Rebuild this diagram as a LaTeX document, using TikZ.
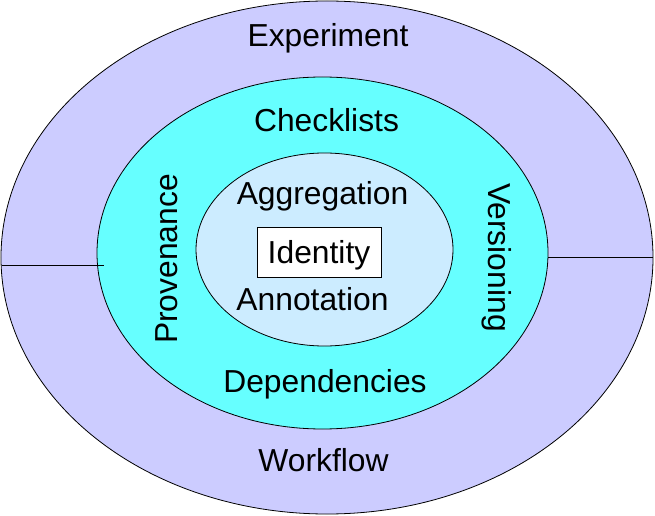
\documentclass[tikz,border=0pt]{standalone}
\usepackage{fontspec}
\setmainfont{Liberation Sans}
\usetikzlibrary{shapes.geometric}
\definecolor{outerc}{HTML}{CCCCFF}
\definecolor{midc}{HTML}{66FFFF}
\definecolor{innerc}{HTML}{CCECFF}
\begin{document}
\begin{tikzpicture}[x=1bp,y=-1bp,
  ring/.style={ellipse,draw=black,line width=0.8bp,inner sep=0pt},
  lbl/.style={anchor=base,inner sep=0pt,font=\fontsize{31.8bp}{36bp}\selectfont},
  sep/.style={draw=black,line width=0.8bp}]
\useasboundingbox (0,0) rectangle (655,516);
\node[ring,fill=outerc,minimum width=652bp,minimum height=513bp] (outer) at (327,257.5) {};
\node[ring,fill=midc,minimum width=451bp,minimum height=352bp] (mid) at (322.5,253) {};
\node[ring,fill=innerc,minimum width=257bp,minimum height=193bp] (inner) at (324.5,249.5) {};
\coordinate (l1) at (1.5,265);
\coordinate (l2) at (104,265);
\coordinate (r1) at (548,257);
\coordinate (r2) at (652.5,257);
\draw[sep] (l1) -- (l2);
\draw[sep] (r1) -- (r2);
\node[draw=black,fill=white,line width=0.8bp,minimum width=124bp,minimum height=50bp,inner sep=0pt] (idbox) at (319,252) {};
\node[lbl] (identity) at (319,263) {Identity};
\node[lbl] (experiment) at (328,47) {Experiment};
\node[lbl] (checklists) at (326.5,132) {Checklists};
\node[lbl] (aggregation) at (322.5,205) {Aggregation};
\node[lbl] (annotation) at (312.5,310) {Annotation};
\node[lbl] (dependencies) at (325,392) {Dependencies};
\node[lbl] (workflow) at (323.5,471) {Workflow};
\node[lbl,rotate=90] (provenance) at (177,259) {Provenance};
\node[lbl,rotate=-90] (versioning) at (488,257.5) {Versioning};
\end{tikzpicture}
\end{document}
